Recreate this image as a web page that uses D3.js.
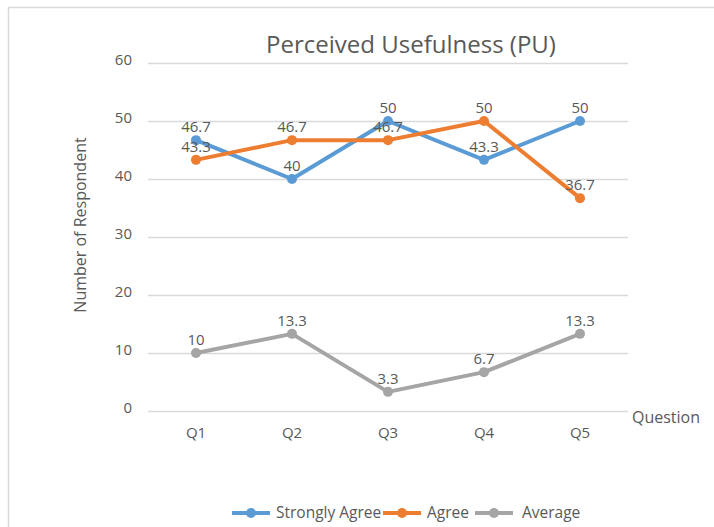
<!DOCTYPE html>
<html>
<head>
<meta charset="utf-8">
<script src="https://cdn.jsdelivr.net/npm/d3@7"></script>
<style>
  body { margin: 0; background: #fff; }
  text { font-family: "Open Sans", sans-serif; fill: #595959; }
</style>
</head>
<body>
<div id="app"></div>
<script>
const questions = ["Q1", "Q2", "Q3", "Q4", "Q5"];
const stronglyAgree = [46.7, 40, 50, 43.3, 50];
const agree = [43.3, 46.7, 46.7, 50, 36.7];
const average = [10, 13.3, 3.3, 6.7, 13.3];
const yTicks = [0, 10, 20, 30, 40, 50, 60];
const seriesNames = ["Strongly Agree", "Agree", "Average"];
const seriesColors = ["#5b9bd5", "#ed7d31", "#a5a5a5"];

const w = 714, h = 527;
const font = "'Open Sans', sans-serif";
const svg = d3.select("#app").append("svg")
  .attr("width", w).attr("height", h);

// chart frame (only top/left visible)
svg.append("path")
  .attr("d", "M8.5," + h + " V7.5 H" + w)
  .attr("fill", "none")
  .attr("stroke", "#d9d9d9")
  .attr("stroke-width", 1.5);

const x = d3.scaleBand().domain(questions).range([148, 628]);
const y = d3.scaleLinear().domain([0, 60]).range([411, 63]);

// gridlines
svg.append("g").selectAll("line")
  .data(yTicks).enter().append("line")
  .attr("x1", 148).attr("x2", 628)
  .attr("y1", d => Math.round(y(d)) + 0.5).attr("y2", d => Math.round(y(d)) + 0.5)
  .attr("stroke", "#d9d9d9").attr("stroke-width", 1.5);

// y axis labels
const yAxis = d3.axisLeft(y).tickValues(yTicks).tickSize(0).tickPadding(0);
svg.append("g")
  .attr("transform", "translate(132,0)")
  .call(yAxis)
  .call(g => g.select(".domain").remove())
  .call(g => g.selectAll("text").attr("font-size", 15).style("font-family", font).attr("fill", "#595959").attr("dy", "0.1em"));

// x axis labels
const xAxis = d3.axisBottom(x).tickSize(0).tickPadding(0);
svg.append("g")
  .attr("transform", "translate(0,427)")
  .call(xAxis)
  .call(g => g.select(".domain").remove())
  .call(g => g.selectAll("text").attr("font-size", 15).style("font-family", font).attr("fill", "#595959"));

// title
svg.append("text")
  .attr("x", 411).attr("y", 53)
  .attr("text-anchor", "middle")
  .attr("font-size", 24)
  .text("Perceived Usefulness (PU)");

// axis titles
svg.append("text")
  .attr("transform", "translate(86,225) rotate(-90)")
  .attr("text-anchor", "middle")
  .attr("font-size", 16)
  .text("Number of Respondent");

svg.append("text")
  .attr("x", 632).attr("y", 423)
  .attr("font-size", 16)
  .text("Question");

const allSeries = [stronglyAgree, agree, average];
const line = d3.line()
  .x((d, i) => x(questions[i]) + x.bandwidth() / 2)
  .y(d => y(d));

allSeries.forEach((vals, si) => {
  const g = svg.append("g");
  g.append("path")
    .datum(vals)
    .attr("d", line)
    .attr("fill", "none")
    .attr("stroke", seriesColors[si])
    .attr("stroke-width", 4)
    .attr("stroke-linejoin", "round");
  g.selectAll("circle").data(vals).enter().append("circle")
    .attr("cx", (d, i) => x(questions[i]) + x.bandwidth() / 2)
    .attr("cy", d => y(d))
    .attr("r", 5)
    .attr("fill", seriesColors[si]);
});

// data labels drawn on top
allSeries.forEach((vals) => {
  svg.append("g").selectAll("text").data(vals).enter().append("text")
    .attr("x", (d, i) => x(questions[i]) + x.bandwidth() / 2)
    .attr("y", d => y(d) - 8)
    .attr("text-anchor", "middle")
    .attr("font-size", 15)
    .attr("fill", "#404040")
    .text(d => d);
});

// legend
const legX = [232, 383, 475];
const legText = [276, 427, 522];
const legY = 513;
seriesNames.forEach((name, i) => {
  svg.append("line")
    .attr("x1", legX[i]).attr("x2", legX[i] + 38)
    .attr("y1", legY).attr("y2", legY)
    .attr("stroke", seriesColors[i]).attr("stroke-width", 4);
  svg.append("circle")
    .attr("cx", legX[i] + 19).attr("cy", legY).attr("r", 5)
    .attr("fill", seriesColors[i]);
  svg.append("text")
    .attr("x", legText[i]).attr("y", legY + 5)
    .attr("font-size", 15.5)
    .text(name);
});
</script>
</body>
</html>
